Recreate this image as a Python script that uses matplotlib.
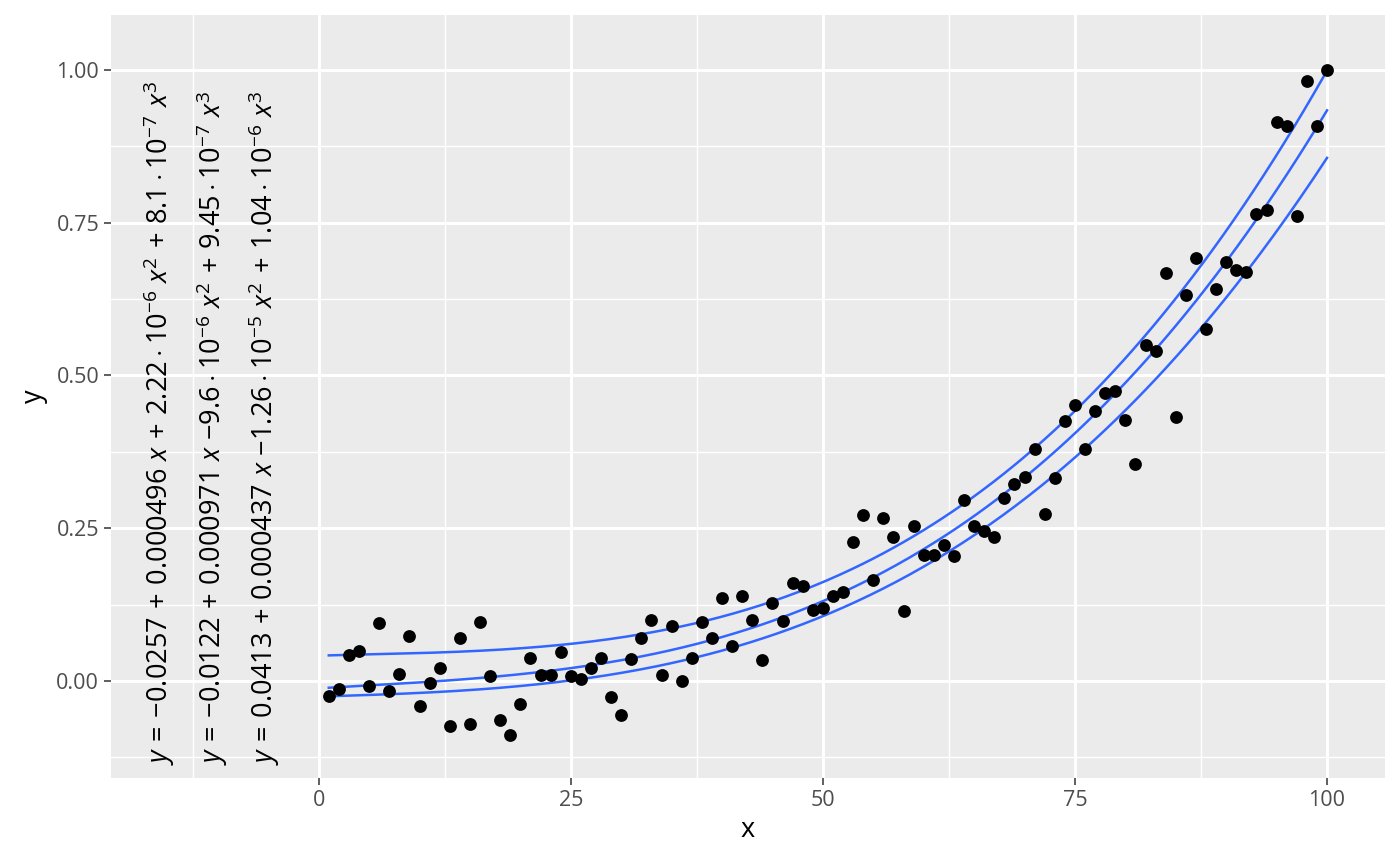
import matplotlib
matplotlib.use("Agg")
import matplotlib.pyplot as plt
from matplotlib import rcParams
import numpy as np

# Fonts / math text
rcParams['font.family'] = ['Open Sans', 'DejaVu Sans']
rcParams['mathtext.fontset'] = 'custom'
rcParams['mathtext.rm'] = 'Open Sans'
rcParams['mathtext.it'] = 'Open Sans:italic'
rcParams['mathtext.bf'] = 'Open Sans:bold'

# Data
x = np.arange(1, 101)
y = [-0.025, -0.013, 0.043, 0.049, -0.008, 0.095, -0.016, 0.011, 0.074, -0.041,
     -0.003, 0.021, -0.074, 0.070, -0.070, 0.097, 0.008, -0.064, -0.088, -0.038,
     0.038, 0.010, 0.010, 0.047, 0.008, 0.003, 0.021, 0.038, -0.026, -0.056,
     0.036, 0.070, 0.100, 0.010, 0.090, 0.000, 0.038, 0.097, 0.070, 0.136,
     0.057, 0.139, 0.100, 0.034, 0.128, 0.098, 0.160, 0.155, 0.116, 0.119,
     0.139, 0.146, 0.228, 0.272, 0.165, 0.267, 0.236, 0.115, 0.254, 0.206,
     0.206, 0.223, 0.205, 0.296, 0.254, 0.246, 0.236, 0.300, 0.322, 0.334,
     0.380, 0.273, 0.332, 0.426, 0.452, 0.380, 0.442, 0.471, 0.475, 0.427,
     0.355, 0.550, 0.540, 0.668, 0.432, 0.632, 0.692, 0.576, 0.642, 0.686,
     0.673, 0.669, 0.764, 0.771, 0.915, 0.908, 0.761, 0.982, 0.908, 1.000]

# quantile fits (0.25, 0.5, 0.75): intercept, x, x^2, x^3 coefficients from labels
coefs = [
    [-0.0257, 0.000496, 2.22e-6, 8.1e-7],
    [-0.0122, 0.000971, -9.6e-6, 9.45e-7],
    [0.0413, 0.000437, -1.26e-5, 1.04e-6],
]
labels = [
    r'$y\,=\,{-0.0257}\,+\,0.000496\ x\,+\,2.22\cdot10^{-6}\ x^2\,+\,8.1\cdot10^{-7}\ x^3$',
    r'$y\,=\,{-0.0122}\,+\,0.000971\ x\ {-9.6}\cdot10^{-6}\ x^2\,+\,9.45\cdot10^{-7}\ x^3$',
    r'$y\,=\,0.0413\,+\,0.000437\ x\ {-1.26}\cdot10^{-5}\ x^2\,+\,1.04\cdot10^{-6}\ x^3$',
]
label_x = [-15.8, -10.6, -5.4]

fig = plt.figure(figsize=(14, 8.66), dpi=100)
ax = fig.add_axes([111 / 1400, 1 - 778 / 866, (1385 - 111) / 1400, (778 - 15) / 866])
ax.set_facecolor('#EBEBEB')
for s in ax.spines.values():
    s.set_visible(False)

ax.set_xlim(-20.6, 105.75)
ax.set_ylim(-0.159, 1.09)

ax.set_xticks([0, 25, 50, 75, 100])
ax.set_xticks([-12.5, 12.5, 37.5, 62.5, 87.5], minor=True)
ax.set_yticks([0, 0.25, 0.5, 0.75, 1.0])
ax.set_yticklabels(['0.00', '0.25', '0.50', '0.75', '1.00'])
ax.set_yticks([-0.125, 0.125, 0.375, 0.625, 0.875], minor=True)
ax.grid(which='major', color='white', linewidth=2.1)
ax.grid(which='minor', color='white', linewidth=1.05)
ax.set_axisbelow(True)
ax.tick_params(which='major', length=5, width=1.1, color='#333333',
               labelcolor='#4D4D4D', labelsize=15.5, pad=3.5)
ax.tick_params(which='minor', length=0)

xs = np.linspace(1, 100, 300)
for c in coefs:
    ys = c[0] + c[1] * xs + c[2] * xs**2 + c[3] * xs**3
    ax.plot(xs, ys, color='#3366FF', linewidth=1.8, zorder=2)

ax.scatter(x, y, s=85, color='black', linewidths=0, zorder=3)

for lx, lab in zip(label_x, labels):
    ax.text(lx, -0.1375, lab, rotation=90, ha='center', va='bottom',
            fontsize=19.5, color='black', zorder=4)

ax.set_xlabel('x', fontsize=19.5, labelpad=4)
ax.set_ylabel('y', fontsize=19.5, labelpad=6)

fig.savefig('out.png', dpi=100, facecolor='white')
